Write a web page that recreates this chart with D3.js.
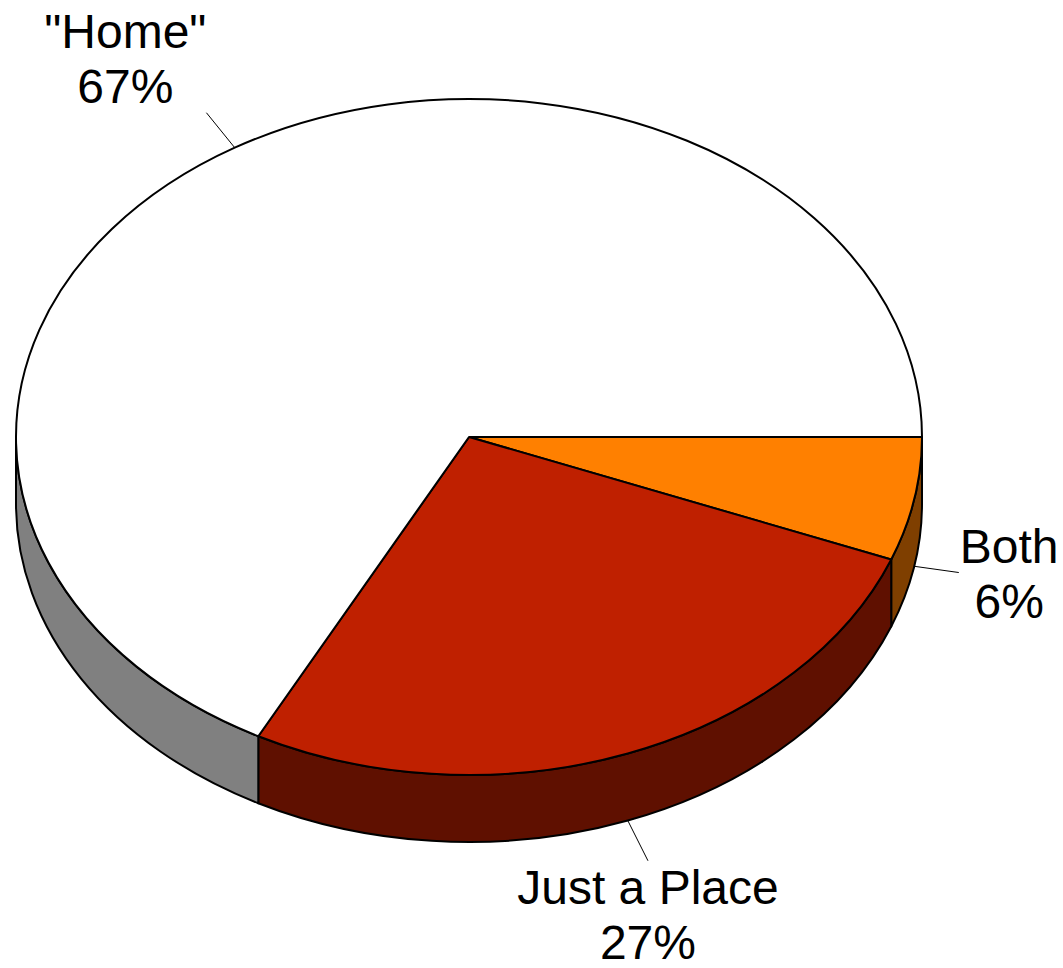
<!DOCTYPE html>
<html>
<head>
<meta charset="utf-8">
<script src="https://cdn.jsdelivr.net/npm/d3@7"></script>
<style>
  html, body { margin: 0; padding: 0; background: #fff; }
  svg { display: block; }
  text { font-family: "Liberation Sans", Arial, sans-serif; }
</style>
</head>
<body>
<svg id="chart" width="1063" height="968"></svg>
<script>
// ---- data ----
const categories = ["Both", "Just a Place", "\"Home\""];
const values = [5.9, 26.8, 67.3];
const percentLabels = ["6%", "27%", "67%"];
const topColors = ["#FF8000", "#BF2000", "#FFFFFF"];
const sideColors = ["#7F3F00", "#5F1000", "#808080"];

// ---- layout ----
const W = 1063, H = 968;
const cx = 469, cy = 437, rx = 453, ry = 338, depth = 67;
const fontSize = 48, lineH = 55, leaderLen = 45;

const svg = d3.select("#chart");

const pie = d3.pie().sort(null).value(d => d.value)
  .startAngle(Math.PI / 2).endAngle(Math.PI / 2 + 2 * Math.PI);
const data = categories.map((c, i) => ({ cat: c, value: values[i], pct: percentLabels[i], top: topColors[i], side: sideColors[i] }));
const arcs = pie(data);

// pie angle -> ellipse point
function pt(a, dy = 0) {
  return [cx + rx * Math.sin(a), cy - ry * Math.cos(a) + dy];
}

function topPath(d) {
  const p0 = pt(d.startAngle), p1 = pt(d.endAngle);
  const large = (d.endAngle - d.startAngle) > Math.PI ? 1 : 0;
  const p = d3.path();
  p.moveTo(cx, cy);
  p.lineTo(p0[0], p0[1]);
  return p.toString() + ` A${rx},${ry} 0 ${large} 1 ${p1[0]},${p1[1]} Z`;
}

function sidePath(d) {
  const s0 = Math.max(d.startAngle, Math.PI / 2);
  const s1 = Math.min(d.endAngle, 3 * Math.PI / 2);
  if (s1 <= s0) return null;
  const a = pt(s0), b = pt(s1), bb = pt(s1, depth), ab = pt(s0, depth);
  return `M${a[0]},${a[1]} A${rx},${ry} 0 0 1 ${b[0]},${b[1]} L${bb[0]},${bb[1]} A${rx},${ry} 0 0 0 ${ab[0]},${ab[1]} Z`;
}

// sides
svg.append("g").selectAll("path")
  .data(arcs.filter(d => sidePath(d)))
  .join("path")
  .attr("d", sidePath)
  .attr("fill", d => d.data.side)
  .attr("stroke", "#000")
  .attr("stroke-width", 2)
  .attr("stroke-linejoin", "round");

// tops
svg.append("g").selectAll("path")
  .data(arcs)
  .join("path")
  .attr("d", topPath)
  .attr("fill", d => d.data.top)
  .attr("stroke", "#000")
  .attr("stroke-width", 2)
  .attr("stroke-linejoin", "round");

// labels
const lg = svg.append("g");
arcs.forEach(d => {
  const mid = (d.startAngle + d.endAngle) / 2;
  const th = mid - Math.PI / 2;
  const c = Math.cos(th), s = Math.sin(th);
  const front = s > 0;
  const st = pt(mid, front ? depth : 0);
  const dx = rx * c, dy = ry * s, dl = Math.hypot(dx, dy);
  const en = [st[0] + dx / dl * leaderLen, st[1] + dy / dl * leaderLen];
  lg.append("line")
    .attr("x1", st[0]).attr("y1", st[1])
    .attr("x2", en[0]).attr("y2", en[1])
    .attr("stroke", "#000").attr("stroke-width", 1);

  const t = lg.append("text")
    .attr("font-size", fontSize)
    .attr("text-anchor", "middle")
    .attr("fill", "#000");
  const l1 = t.append("tspan").text(d.data.cat);
  const l2 = t.append("tspan").text(d.data.pct);
  const w = Math.max(l1.node().getComputedTextLength(), l2.node().getComputedTextLength());

  let centerX;
  if (c > 0.45) centerX = en[0] + 1 + w / 2;
  else if (c < -0.45) centerX = en[0] - w / 2;
  else centerX = en[0];

  let base1;
  if (s > 0.8) base1 = en[1] + 43;
  else if (s < -0.8) base1 = en[1] - 10 - lineH;
  else base1 = en[1] - 10;

  l1.attr("x", centerX).attr("y", base1);
  l2.attr("x", centerX).attr("y", base1 + lineH);
});
</script>
</body>
</html>
